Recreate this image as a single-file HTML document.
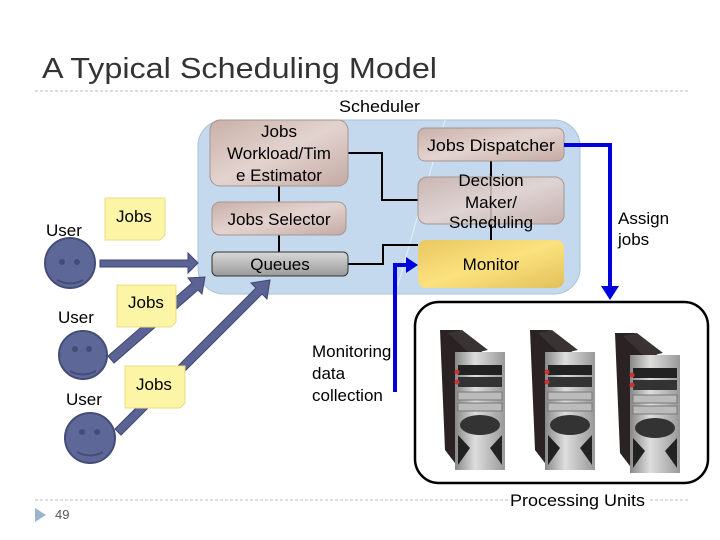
<!DOCTYPE html>
<html><head><style>body{margin:0;background:#fff}svg{display:block}text{font-family:"Liberation Sans",sans-serif}</style></head><body>
<svg width="720" height="540" viewBox="0 0 720 540" xmlns="http://www.w3.org/2000/svg">
<defs>
<linearGradient id="brown" x1="0" y1="0" x2="1" y2="1"><stop offset="0" stop-color="#c9b0a8"/><stop offset="0.5" stop-color="#e3d3cf"/><stop offset="1" stop-color="#c4aaa3"/></linearGradient>
<linearGradient id="gray" x1="0" y1="0" x2="0" y2="1"><stop offset="0" stop-color="#d8d8d8"/><stop offset="1" stop-color="#9a9a9a"/></linearGradient>
<linearGradient id="gold" x1="0" y1="0" x2="1" y2="1"><stop offset="0" stop-color="#e8c760"/><stop offset="0.5" stop-color="#fbe27e"/><stop offset="1" stop-color="#e2c05a"/></linearGradient>
<linearGradient id="metal" x1="0" y1="0" x2="1" y2="0"><stop offset="0" stop-color="#888"/><stop offset="0.4" stop-color="#ddd"/><stop offset="1" stop-color="#999"/></linearGradient>
<g id="srv">
<polygon points="0,0 20,0 42,22 42,140 18,137 5,120" fill="#2b2323"/>
<polygon points="8,3 22,0 48,20 30,24" fill="#3a3333"/>
<rect x="15" y="22" width="50" height="118" fill="url(#metal)"/>
<rect x="18" y="35" width="44" height="10" fill="#222"/>
<rect x="18" y="47" width="44" height="10" fill="#333"/>
<rect x="18" y="62" width="44" height="8" fill="#bbb" stroke="#777"/>
<rect x="18" y="73" width="44" height="8" fill="#bbb" stroke="#777"/>
<ellipse cx="40" cy="95" rx="20" ry="10" fill="#333"/>
<path d="M18 105 L30 118 L18 135 Z M62 105 L50 118 L62 135 Z" fill="#222"/>
<circle cx="17" cy="42" r="2.5" fill="#c33"/><circle cx="17" cy="52" r="2.5" fill="#c33"/>
</g>
</defs>
<text x="42" y="78" font-size="29" fill="#333" textLength="395" lengthAdjust="spacingAndGlyphs">A Typical Scheduling Model</text>
<line x1="35" y1="91" x2="688" y2="91" stroke="#bbb" stroke-dasharray="3,2"/>
<text x="339" y="112" font-size="17" fill="#000" textLength="81" lengthAdjust="spacingAndGlyphs">Scheduler</text>
<rect x="198" y="120" width="382" height="174" rx="26" fill="#c5d9ee" stroke="#a8c2dc"/>
<line x1="398" y1="285" x2="445" y2="120" stroke="#e6eef8" stroke-width="1"/>
<polyline points="348,153 382,153 382,200 418,200" fill="none" stroke="#000" stroke-width="2"/>
<polyline points="348,264 383,264 383,245 418,245" fill="none" stroke="#000" stroke-width="2"/>
<line x1="279" y1="186" x2="279" y2="202" stroke="#000" stroke-width="2"/>
<line x1="279" y1="235" x2="279" y2="252" stroke="#000" stroke-width="2"/>
<line x1="491" y1="161" x2="491" y2="240" stroke="#000" stroke-width="2"/>
<rect x="210" y="120" width="138" height="66" rx="10" fill="url(#brown)" stroke="#a89590"/>
<text font-size="17" text-anchor="middle" fill="#000"><tspan x="279" y="137">Jobs</tspan><tspan x="279" y="159">Workload/Tim</tspan><tspan x="279" y="181">e Estimator</tspan></text>
<rect x="212" y="202" width="134" height="33" rx="8" fill="url(#brown)" stroke="#a89590"/>
<text x="279" y="225" font-size="17" text-anchor="middle">Jobs Selector</text>
<rect x="212" y="252" width="136" height="24" rx="5" fill="url(#gray)" stroke="#333"/>
<text x="280" y="270" font-size="17" text-anchor="middle">Queues</text>
<rect x="418" y="128" width="146" height="33" rx="7" fill="url(#brown)" stroke="#a89590"/>
<text x="491" y="151" font-size="17" text-anchor="middle" textLength="128" lengthAdjust="spacingAndGlyphs">Jobs Dispatcher</text>
<rect x="418" y="177" width="146" height="47" rx="9" fill="url(#brown)" stroke="#a89590" fill-opacity="0.85"/>
<text font-size="17" text-anchor="middle"><tspan x="491" y="186">Decision</tspan><tspan x="491" y="208">Maker/</tspan><tspan x="491" y="228">Scheduling</tspan></text>
<rect x="418" y="240" width="146" height="48" rx="8" fill="url(#gold)"/>
<text x="491" y="270" font-size="17" text-anchor="middle">Monitor</text>
<polyline points="564,145 610,145 610,290" fill="none" stroke="#0000dd" stroke-width="4"/>
<polygon points="601,286 619,286 610,300" fill="#0000dd"/>
<polyline points="395,392 395,265 408,265" fill="none" stroke="#0000dd" stroke-width="4"/>
<polygon points="406,257 418,265 406,273" fill="#0000dd"/>
<text font-size="17"><tspan x="618" y="224">Assign</tspan><tspan x="618" y="245">jobs</tspan></text>
<text font-size="17"><tspan x="312" y="357">Monitoring</tspan><tspan x="312" y="379">data</tspan><tspan x="312" y="401">collection</tspan></text>
<rect x="415" y="302" width="293" height="181" rx="24" fill="#fff" stroke="#000" stroke-width="2.5"/>
<use href="#srv" x="440" y="330"/>
<use href="#srv" x="530" y="330"/>
<use href="#srv" x="615" y="333"/>
<line x1="35" y1="500" x2="688" y2="500" stroke="#bbb" stroke-dasharray="3,2"/>
<rect x="508" y="490" width="140" height="20" fill="#fff"/>
<text x="510" y="506" font-size="17" textLength="135" lengthAdjust="spacingAndGlyphs">Processing Units</text>
<polygon points="35,508 46,515 35,522" fill="#9bb3cc"/>
<text x="55" y="519" font-size="13" fill="#555">49</text>
<g fill="#5a6394" stroke="#3f466e" stroke-width="1">
<polygon points="100,260 188,260 188,253 198,263 188,273 188,267 100,267"/>
<polygon points="108,356 192,283 188,278 205,277 202,294 198,290 114,363"/>
<polygon points="115,429 256,288 251,283 270,280 267,299 262,294 121,435"/>
</g>
<g fill="#5d6899" stroke="#454d77" stroke-width="2">
<circle cx="70" cy="263" r="25"/><circle cx="83" cy="355" r="24"/><circle cx="90" cy="438" r="25"/>
</g>
<g fill="#454d77"><circle cx="62" cy="262" r="3"/><circle cx="77" cy="262" r="3"/><circle cx="75" cy="349" r="3"/><circle cx="89" cy="349" r="3"/><circle cx="82" cy="432" r="3"/><circle cx="97" cy="432" r="3"/></g>
<g fill="none" stroke="#454d77" stroke-width="2"><path d="M57 280 Q70 287 83 280"/><path d="M70 371 Q83 378 96 371"/><path d="M77 452 Q90 459 103 452"/></g>
<text font-size="17"><tspan x="46" y="236">User</tspan><tspan x="58" y="323">User</tspan><tspan x="66" y="405">User</tspan></text>
<g fill="#fdf5a6" stroke="#e8dc80">
<polygon points="105,198 165,198 165,235 160,240 105,240"/>
<polygon points="117,285 176,285 176,322 171,327 117,327"/>
<polygon points="125,366 185,366 185,403 180,408 125,408"/>
</g>
<text font-size="17"><tspan x="116" y="222">Jobs</tspan><tspan x="128" y="308">Jobs</tspan><tspan x="136" y="390">Jobs</tspan></text>
</svg>
</body></html>
